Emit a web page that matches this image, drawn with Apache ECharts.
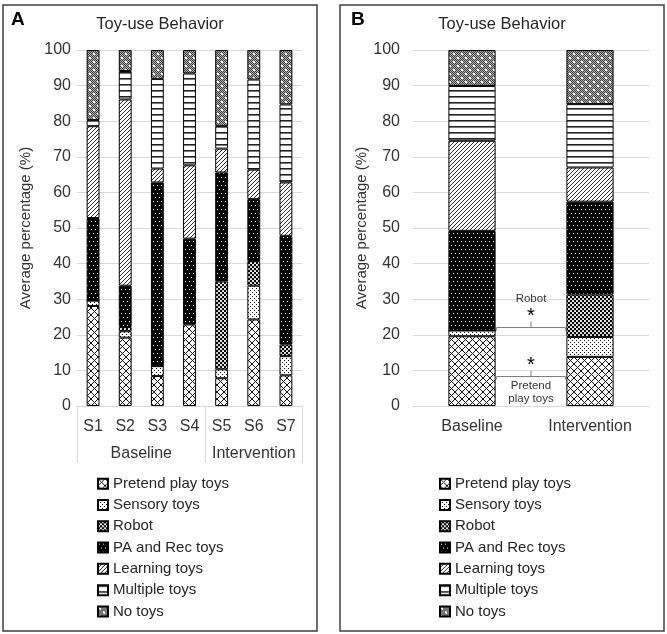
<!DOCTYPE html>
<html>
<head>
<meta charset="utf-8">
<script src="https://cdn.jsdelivr.net/npm/echarts@6/dist/echarts.min.js"></script>
<style>
html,body{margin:0;padding:0;background:#fff;}
#chart{width:667px;height:634px;}
</style>
</head>
<body>
<div id="chart"></div>
<script>
// ---------- data ----------
const seriesNames = ['Pretend play toys', 'Sensory toys', 'Robot', 'PA and Rec toys', 'Learning toys', 'Multiple toys', 'No toys'];
const legendOrder = ['Pretend play toys', 'Sensory toys', 'Robot', 'PA and Rec toys', 'Learning toys', 'Multiple toys', 'No toys'];
const yTicks = [0, 10, 20, 30, 40, 50, 60, 70, 80, 90, 100];

// Panel A: per-participant
const participantsA = ['S1', 'S2', 'S3', 'S4', 'S5', 'S6', 'S7'];
const phasesA = ['Baseline', 'Intervention'];
const phaseSizesA = [4, 3];
const pretendA  = [28.1, 19.2, 8.4, 22.9, 7.8, 24.3, 8.6];
const sensoryA  = [1.5, 1.8, 2.8, 0.3, 2.5, 9.5, 5.4];
const robotA    = [0, 1.2, 0, 0, 24.7, 6.9, 3.3];
const paRecA    = [23.2, 11.6, 51.6, 23.8, 30.6, 17.4, 30.5];
const learningA = [25.8, 52.3, 3.9, 20.6, 6.7, 8.3, 15.0];
const multipleA = [1.7, 8.0, 25.2, 25.8, 6.3, 25.3, 21.9];
const noToysA   = [19.7, 5.9, 8.1, 6.6, 21.4, 8.3, 15.3];

// Panel B: phase averages
const phasesB = ['Baseline', 'Intervention'];
const pretendB  = [19.6, 13.8];
const sensoryB  = [1.6, 5.6];
const robotB    = [0, 11.9];
const paRecB    = [28.0, 26.1];
const learningB = [25.3, 9.6];
const multipleB = [15.4, 17.8];
const noToysB   = [10.1, 15.2];

// significance annotations (panel B)
const sigLabels = ['Robot', 'Pretend\nplay toys'];
const sigLevels = [22.2, 8.3];

const valuesA = [pretendA, sensoryA, robotA, paRecA, learningA, multipleA, noToysA];
const valuesB = [pretendB, sensoryB, robotB, paRecB, learningB, multipleB, noToysB];

// ---------- patterns ----------
function pat(w, h, draw) {
  const c = document.createElement('canvas');
  c.width = w; c.height = h;
  const ctx = c.getContext('2d');
  ctx.fillStyle = '#fff'; ctx.fillRect(0, 0, w, h);
  draw(ctx, w, h);
  return { image: c, repeat: 'repeat' };
}
const patterns = [
  // Pretend play: diagonal crosshatch (diamond lattice)
  pat(7, 7, (ctx, w, h) => {
    ctx.strokeStyle = '#111'; ctx.lineWidth = 1;
    ctx.beginPath();
    ctx.moveTo(-1, -1); ctx.lineTo(w + 1, h + 1);
    ctx.moveTo(-1, h + 1); ctx.lineTo(w + 1, -1);
    ctx.stroke();
  }),
  // Sensory: sparse black dots on white
  pat(4, 4, (ctx) => {
    ctx.fillStyle = '#111';
    ctx.fillRect(0, 0, 1, 1); ctx.fillRect(2, 2, 1, 1);
  }),
  // Robot: black with white dots (checker-like)
  pat(4, 4, (ctx) => {
    ctx.fillStyle = '#000'; ctx.fillRect(0, 0, 4, 4);
    ctx.fillStyle = '#fff';
    ctx.beginPath(); ctx.arc(1, 1, 1.05, 0, Math.PI * 2); ctx.fill();
    ctx.beginPath(); ctx.arc(3, 3, 1.05, 0, Math.PI * 2); ctx.fill();
  }),
  // PA and Rec: black with small white dots
  pat(8, 8, (ctx) => {
    ctx.fillStyle = '#000'; ctx.fillRect(0, 0, 8, 8);
    ctx.fillStyle = '#fff';
    ctx.fillRect(1, 1, 1, 1); ctx.fillRect(5, 1, 1, 1);
    ctx.fillRect(3, 5, 1, 1); ctx.fillRect(7, 5, 1, 1);
  }),
  // Learning: forward diagonal lines
  pat(4, 4, (ctx, w, h) => {
    ctx.strokeStyle = '#111'; ctx.lineWidth = 0.9;
    ctx.beginPath();
    ctx.moveTo(-1, h + 1); ctx.lineTo(w + 1, -1);
    ctx.moveTo(-1, 1); ctx.lineTo(1, -1);
    ctx.moveTo(w - 1, h + 1); ctx.lineTo(w + 1, h - 1);
    ctx.stroke();
  }),
  // Multiple: horizontal lines
  pat(6, 6, (ctx) => {
    ctx.fillStyle = '#222'; ctx.fillRect(0, 0, 6, 1.6);
  }),
  // No toys: gray fine checker with white dots
  pat(8, 8, (ctx) => {
    for (let y = 0; y < 8; y++) for (let x = 0; x < 8; x++) {
      ctx.fillStyle = ((x + y) % 2 === 0) ? '#3a3a3a' : '#b5b5b5';
      ctx.fillRect(x, y, 1, 1);
    }
    ctx.fillStyle = '#fff';
    ctx.fillRect(1, 1, 2, 2); ctx.fillRect(5, 5, 2, 2);
  })
];

// ---------- chart ----------
const chart = echarts.init(document.getElementById('chart'), null, { renderer: 'canvas' });
const FONT = 'Liberation Sans, Arial, sans-serif';
const gridColor = '#d9d9d9';
const labelColor = '#333';

// phase boundaries / centres for the grouped axis of panel A
const phaseTicks = [0];
const phaseCenters = [];
phaseSizesA.forEach((n, i) => {
  const start = phaseTicks[phaseTicks.length - 1];
  phaseCenters.push(start + n / 2);
  phaseTicks.push(start + n);
});

function makeSeries(values, xIdx, yIdx, stack) {
  return seriesNames.map((name, i) => ({
    name: name,
    type: 'bar',
    stack: stack,
    xAxisIndex: xIdx,
    yAxisIndex: yIdx,
    barWidth: '40%',
    data: values[i],
    itemStyle: { color: patterns[i], borderColor: '#000', borderWidth: 1 },
    emphasis: { disabled: true }
  }));
}

function yAxisCfg(gridIndex, margin, nameGap) {
  return {
    type: 'value', gridIndex: gridIndex, min: 0, max: 100, interval: 10,
    name: 'Average percentage (%)', nameLocation: 'middle', nameGap: nameGap,
    nameTextStyle: { fontSize: 15, color: labelColor, fontFamily: FONT },
    axisLine: { show: false }, axisTick: { show: false },
    axisLabel: { fontSize: 16, color: labelColor, fontFamily: FONT, margin: margin },
    splitLine: { lineStyle: { color: gridColor, width: 1 } }
  };
}

function legendCfg(left) {
  return {
    orient: 'vertical', left: left, top: 476, padding: 0,
    data: legendOrder, icon: 'rect', itemWidth: 10, itemHeight: 10, itemGap: 6,
    selectedMode: false,
    textStyle: { fontSize: 15, color: '#262626', fontFamily: FONT, lineHeight: 15.3 }
  };
}

const option = {
  animation: false,
  backgroundColor: '#fff',
  grid: [
    { left: 77, right: 365, top: 50, bottom: 228 },
    { left: 413, right: 18, top: 50, bottom: 228 }
  ],
  xAxis: [
    {
      type: 'category', gridIndex: 0, data: participantsA, position: 'bottom',
      axisLine: { lineStyle: { color: gridColor } }, axisTick: { show: false },
      axisLabel: { fontSize: 16, color: labelColor, fontFamily: FONT, margin: 13 }
    },
    {
      type: 'value', gridIndex: 0, min: 0, max: phaseTicks[phaseTicks.length - 1], position: 'bottom',
      axisLine: { show: false }, splitLine: { show: false },
      axisTick: { show: true, customValues: phaseTicks, length: 57, inside: false, lineStyle: { color: gridColor } },
      axisLabel: {
        customValues: phaseCenters, margin: 40, fontSize: 16, color: labelColor, fontFamily: FONT,
        formatter: (v) => phasesA[phaseCenters.indexOf(v)] || ''
      }
    },
    {
      type: 'category', gridIndex: 1, data: phasesB,
      axisLine: { lineStyle: { color: gridColor } }, axisTick: { show: false },
      axisLabel: { fontSize: 16, color: labelColor, fontFamily: FONT, margin: 13 }
    }
  ],
  yAxis: [yAxisCfg(0, 6, 44), yAxisCfg(1, 13, 43)],
  legend: [legendCfg(97), legendCfg(439)],
  series: [].concat(makeSeries(valuesA, 0, 0, 'A'), makeSeries(valuesB, 2, 1, 'B')),
  graphic: []
};
chart.setOption(option);

// ---------- frames, titles, annotations ----------
const g = [
  { type: 'rect', shape: { x: 3, y: 5, width: 314, height: 626 }, style: { fill: 'none', stroke: '#404040', lineWidth: 1.5 }, z: 100 },
  { type: 'rect', shape: { x: 340, y: 5, width: 324, height: 626 }, style: { fill: 'none', stroke: '#404040', lineWidth: 1.5 }, z: 100 },
  { type: 'text', x: 11, y: 20, style: { text: 'A', font: 'bold 19px ' + FONT, fill: '#000', align: 'left', verticalAlign: 'middle' }, z: 100 },
  { type: 'text', x: 351, y: 20, style: { text: 'B', font: 'bold 19px ' + FONT, fill: '#000', align: 'left', verticalAlign: 'middle' }, z: 100 },
  { type: 'text', x: 160, y: 24, style: { text: 'Toy-use Behavior', font: '16.5px ' + FONT, fill: '#262626', align: 'center', verticalAlign: 'middle' }, z: 100 },
  { type: 'text', x: 502, y: 24, style: { text: 'Toy-use Behavior', font: '16.5px ' + FONT, fill: '#262626', align: 'center', verticalAlign: 'middle' }, z: 100 }
];

const cx0 = chart.convertToPixel({ xAxisIndex: 2 }, phasesB[0]);
const cx1 = chart.convertToPixel({ xAxisIndex: 2 }, phasesB[1]);
const band = cx1 - cx0;
const xL = cx0 + band * 0.2 + 1;
const xR = cx1 - band * 0.2 - 1;
const xm = (xL + xR) / 2;
sigLevels.forEach((lv, i) => {
  const y = Math.round(chart.convertToPixel({ yAxisIndex: 1 }, lv)) + 0.5;
  g.push({
    type: 'polyline', shape: { points: [[xL, y + 3], [xL, y], [xR, y], [xR, y + 3]] },
    style: { stroke: '#808080', lineWidth: 1, fill: null }, z: 100
  });
  g.push({
    type: 'line', shape: { x1: xm, y1: y, x2: xm, y2: y - 6 },
    style: { stroke: '#808080', lineWidth: 1 }, z: 100
  });
  g.push({
    type: 'text', x: xm, y: y - 11,
    style: { text: '*', font: '20px ' + FONT, fill: '#000', align: 'center', verticalAlign: 'middle' }, z: 100
  });
  if (i === 0) {
    g.push({
      type: 'text', x: xm, y: y - 29,
      style: { text: sigLabels[i], font: '11.5px ' + FONT, fill: '#333', align: 'center', verticalAlign: 'middle' }, z: 100
    });
  } else {
    g.push({
      type: 'text', x: xm, y: y + 15.5,
      style: { text: sigLabels[i], font: '11.5px ' + FONT, fill: '#333', align: 'center', verticalAlign: 'middle', lineHeight: 13 }, z: 100
    });
  }
});
chart.setOption({ graphic: g });
</script>
</body>
</html>
